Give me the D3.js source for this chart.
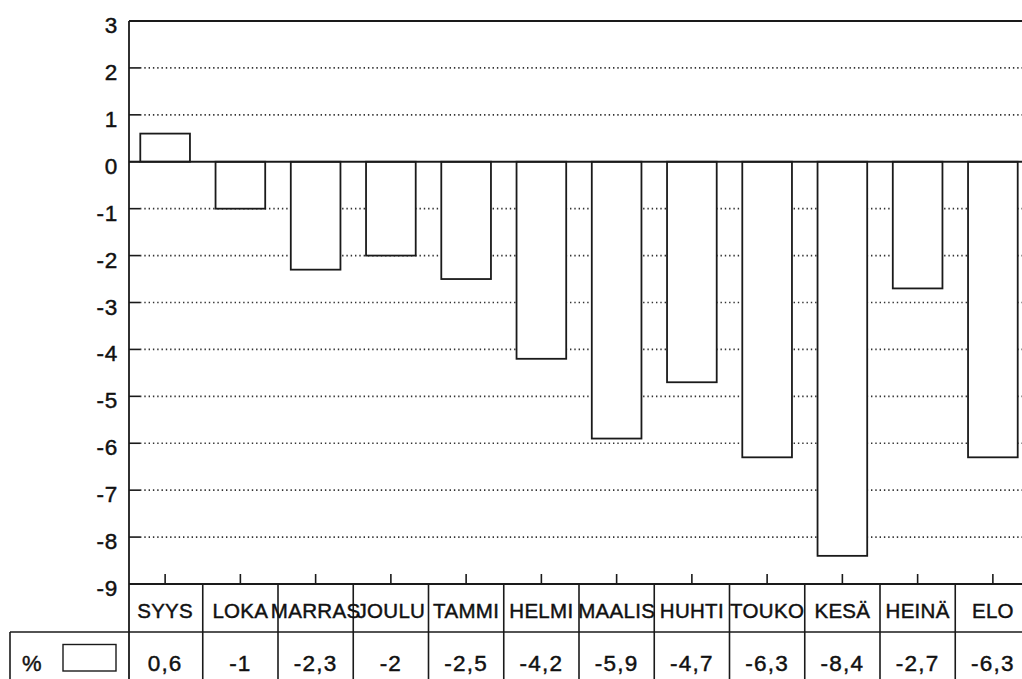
<!DOCTYPE html>
<html>
<head>
<meta charset="utf-8">
<script src="https://cdn.jsdelivr.net/npm/d3@7"></script>
<style>
body { margin: 0; background: #fff; }
text { font-family: "Liberation Sans", Arial, sans-serif; fill: #111; stroke: #111; stroke-width: 0.45; }
</style>
</head>
<body>
<svg id="chart" width="1022" height="679"></svg>
<script>
const months = ["SYYS", "LOKA", "MARRAS", "JOULU", "TAMMI", "HELMI", "MAALIS", "HUHTI", "TOUKO", "KESÄ", "HEINÄ", "ELO"];
const values = [0.6, -1, -2.3, -2, -2.5, -4.2, -5.9, -4.7, -6.3, -8.4, -2.7, -6.3];
const yTicks = [3, 2, 1, 0, -1, -2, -3, -4, -5, -6, -7, -8, -9];
const seriesLabel = "%";

const plotLeft = 129, plotRight = 1030.5, plotTop = 21, plotBottom = 584;
const ink = "#1a1a1a";

const svg = d3.select("#chart");

const x = d3.scaleBand()
.domain(months)
.range([127.5, plotRight])
.paddingInner(0.34)
.paddingOuter(0.17);

const col = d3.scaleBand()
.domain(months)
.range([127.5, plotRight])
.padding(0);

const y = d3.scaleLinear()
.domain([-9, 3])
.range([plotBottom, plotTop]);

// dotted grid lines
svg.append("g")
.selectAll("line")
.data(yTicks.filter(d => d !== 0 && d !== 3 && d !== -9))
.join("line")
.attr("x1", plotLeft + 11)
.attr("x2", 1022)
.attr("y1", d => y(d))
.attr("y2", d => y(d))
.attr("stroke", "#333")
.attr("stroke-width", 1.6)
.attr("stroke-dasharray", "1.4 2.9");

// y ticks inside the plot
svg.append("g")
.selectAll("line")
.data(yTicks)
.join("line")
.attr("x1", plotLeft)
.attr("x2", plotLeft + 11)
.attr("y1", d => y(d))
.attr("y2", d => y(d))
.attr("stroke", ink)
.attr("stroke-width", 1.6);

// y tick labels
svg.append("g")
.selectAll("text")
.data(yTicks)
.join("text")
.attr("x", 118)
.attr("y", d => y(d) + 12)
.attr("text-anchor", "end")
.attr("font-size", 22.5)
.attr("letter-spacing", 0.8)
.text(d => d);

// bars
svg.append("g")
.selectAll("rect")
.data(values)
.join("rect")
.attr("x", (d, i) => x(months[i]))
.attr("width", x.bandwidth())
.attr("y", d => y(Math.max(0, d)))
.attr("height", d => Math.abs(y(d) - y(0)))
.attr("fill", "#fff")
.attr("stroke", ink)
.attr("stroke-width", 1.8);

// frame: top, zero line, bottom axis, left axis
const frame = svg.append("g").attr("stroke", ink).attr("stroke-width", 1.8);
frame.append("line").attr("x1", plotLeft).attr("x2", 1022).attr("y1", plotTop).attr("y2", plotTop);
frame.append("line").attr("x1", plotLeft).attr("x2", 1022).attr("y1", y(0)).attr("y2", y(0));
frame.append("line").attr("x1", plotLeft).attr("x2", 1022).attr("y1", plotBottom).attr("y2", plotBottom);
frame.append("line").attr("x1", plotLeft).attr("x2", plotLeft).attr("y1", plotTop).attr("y2", 679);

// x ticks at band centers
svg.append("g")
.selectAll("line")
.data(months)
.join("line")
.attr("x1", d => col(d) + col.bandwidth() / 2)
.attr("x2", d => col(d) + col.bandwidth() / 2)
.attr("y1", plotBottom)
.attr("y2", plotBottom - 10)
.attr("stroke", ink)
.attr("stroke-width", 1.6);

// data table
const rowSplit = 632;
const table = svg.append("g").attr("stroke", ink).attr("stroke-width", 1.6);
table.selectAll("line.sep")
.data(months.slice(1))
.join("line")
.attr("class", "sep")
.attr("x1", d => col(d))
.attr("x2", d => col(d))
.attr("y1", plotBottom)
.attr("y2", 679);
table.append("line").attr("x1", 10).attr("x2", 1022).attr("y1", rowSplit).attr("y2", rowSplit);
table.append("line").attr("x1", 10).attr("x2", 10).attr("y1", rowSplit).attr("y2", 679);

svg.append("g")
.selectAll("text")
.data(months)
.join("text")
.attr("x", d => col(d) + col.bandwidth() / 2)
.attr("y", 617.5)
.attr("text-anchor", "middle")
.attr("font-size", 20.5)
.attr("letter-spacing", 0.3)
.text(d => d);

svg.append("g")
.selectAll("text")
.data(values)
.join("text")
.attr("x", (d, i) => col(months[i]) + col.bandwidth() / 2)
.attr("y", 671)
.attr("text-anchor", "middle")
.attr("font-size", 22.5)
.attr("letter-spacing", 1.2)
.text(d => String(d).replace(".", ","));

// legend in the table
svg.append("text")
.attr("x", 22)
.attr("y", 671)
.attr("font-size", 22)
.text(seriesLabel);

svg.append("rect")
.attr("x", 63)
.attr("y", 644.5)
.attr("width", 53)
.attr("height", 26.5)
.attr("fill", "#fff")
.attr("stroke", ink)
.attr("stroke-width", 1.4);
</script>
</body>
</html>
